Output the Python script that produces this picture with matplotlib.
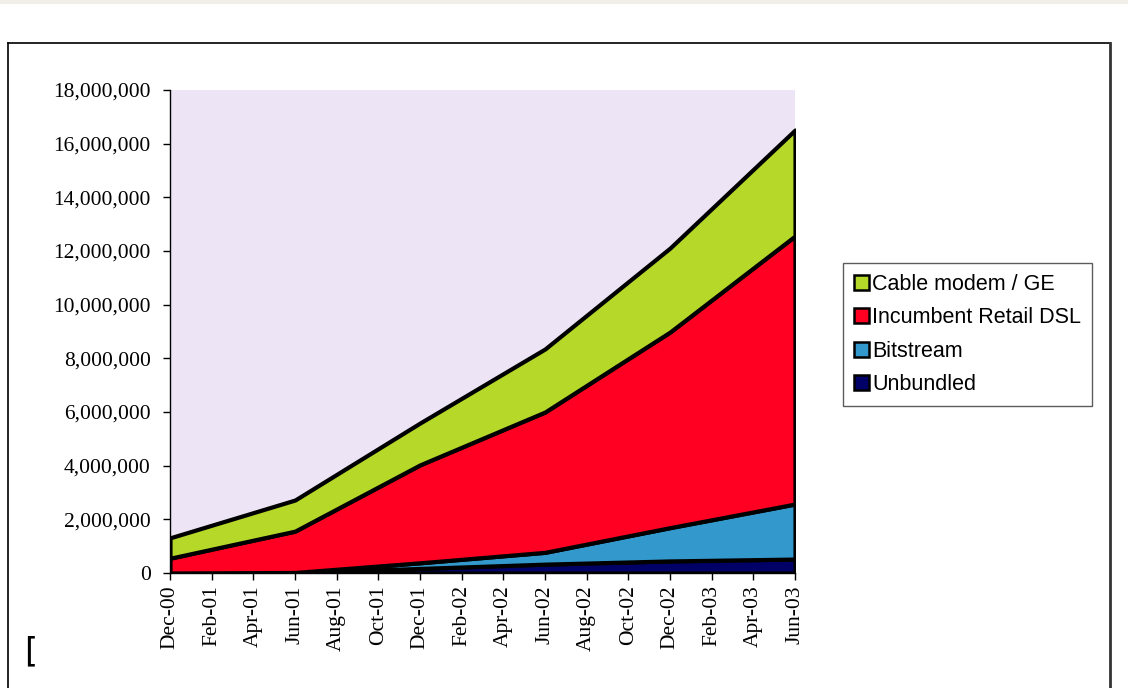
import numpy as np
import matplotlib.pyplot as plt
from matplotlib.patches import Patch, Rectangle
from matplotlib.lines import Line2D
from matplotlib.ticker import FuncFormatter

# data points every 6 months (month index from Dec-00)
months = [0, 6, 12, 18, 24, 30]
unbundled = [0, 10000, 170000, 330000, 450000, 520000]
bitstream = [0, 10000, 210000, 440000, 1240000, 2050000]
incumbent = [550000, 1540000, 3650000, 5230000, 7290000, 9990000]
cable = [760000, 1160000, 1560000, 2350000, 3130000, 3950000]

series_names = ['Unbundled', 'Bitstream', 'Incumbent Retail DSL', 'Cable modem / GE']
series_colors = ['#000066', '#3399cc', '#ff0022', '#b5d829']

tick_months = list(range(0, 31, 2))
tick_labels = ['Dec-00', 'Feb-01', 'Apr-01', 'Jun-01', 'Aug-01', 'Oct-01', 'Dec-01',
               'Feb-02', 'Apr-02', 'Jun-02', 'Aug-02', 'Oct-02', 'Dec-02',
               'Feb-03', 'Apr-03', 'Jun-03']

W, H = 1128, 688
fig = plt.figure(figsize=(W / 100, H / 100), dpi=100)
fig.patch.set_facecolor('white')

# grey strip at top and outer frame of the chart object
fig.add_artist(Rectangle((0, 1 - 4 / H), 1, 4 / H, transform=fig.transFigure,
                         facecolor='#f0efe8', edgecolor='none'))
fig.add_artist(Line2D([8 / W, 8 / W], [0, 1 - 43 / H], transform=fig.transFigure,
                      color='black', linewidth=1.2))
fig.add_artist(Line2D([8 / W, 1110 / W], [1 - 43 / H, 1 - 43 / H], transform=fig.transFigure,
                      color='black', linewidth=1.2))
fig.add_artist(Line2D([1110 / W, 1110 / W], [0, 1 - 43 / H], transform=fig.transFigure,
                      color='#333333', linewidth=2))

ax = fig.add_axes([170 / W, 115 / H, 625 / W, 483 / H])
ax.set_facecolor('#ede5f5')

stack = np.vstack([unbundled, bitstream, incumbent, cable])
ax.stackplot(months, stack, colors=series_colors, edgecolor='black', linewidth=3.0)

ax.set_xlim(0, 30)
ax.set_ylim(0, 18000000)
ax.set_yticks(np.arange(0, 18000001, 2000000))
ax.yaxis.set_major_formatter(FuncFormatter(lambda v, p: f'{int(v):,}'))
ax.set_xticks(tick_months)
ax.set_xticklabels(tick_labels, rotation=90)

for lab in ax.get_yticklabels() + ax.get_xticklabels():
    lab.set_fontfamily('Liberation Serif')
    lab.set_fontsize(15.5)

ax.spines['top'].set_visible(False)
ax.spines['right'].set_visible(False)
ax.spines['left'].set_linewidth(1)
ax.spines['bottom'].set_linewidth(1)
ax.tick_params(axis='both', direction='out', length=5, width=1, color='black')
ax.tick_params(axis='y', pad=9)
ax.tick_params(axis='x', pad=4)

handles = [Patch(facecolor=c, edgecolor='black', linewidth=1.8)
           for c in series_colors[::-1]]
leg = fig.legend(handles, series_names[::-1], loc='upper left',
                 bbox_to_anchor=(843 / W, 1 - 263 / H), borderaxespad=0,
                 frameon=True, fancybox=False, handlelength=0.7, handleheight=0.7,
                 handletextpad=0.15, labelspacing=0.58, borderpad=0.5,
                 prop={'family': 'Liberation Sans', 'size': 15.5})
leg.get_frame().set_edgecolor('#333333')
leg.get_frame().set_linewidth(1)

fig.text(24 / W, 1 - 652 / H, '[', fontsize=24, family='DejaVu Sans', va='center')

plt.savefig('out.png', dpi=100)
